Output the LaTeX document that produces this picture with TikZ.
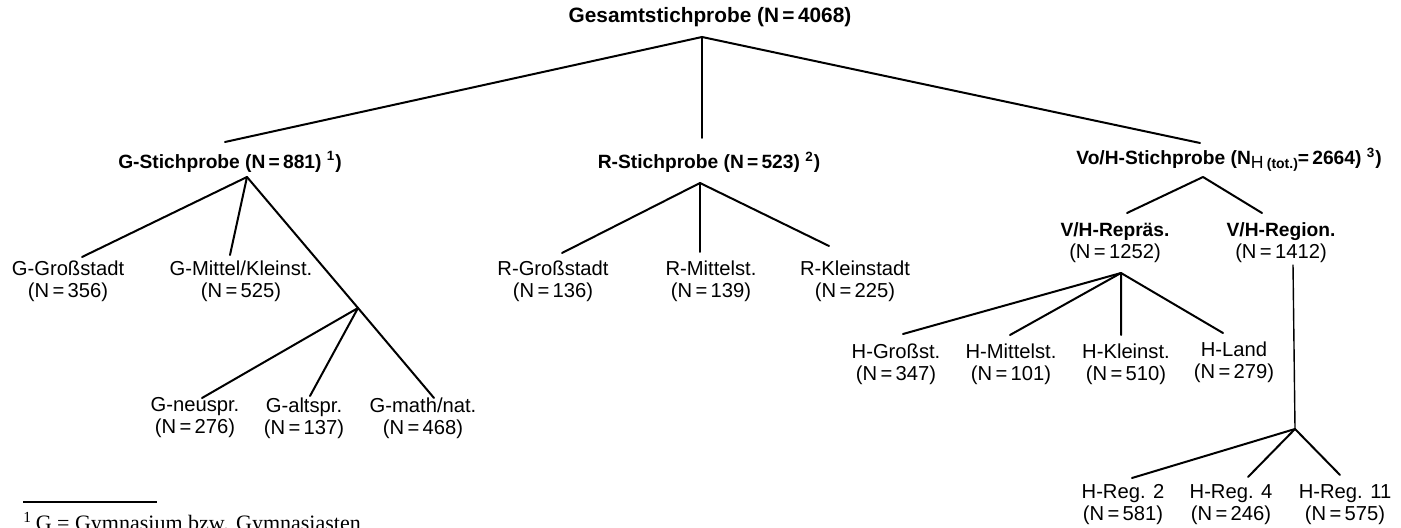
\documentclass[tikz,border=0pt]{standalone}
\usepackage{fontspec}
\setmainfont{Liberation Sans}
\newfontfamily\fnserif{Liberation Serif}
\begin{document}
\begin{tikzpicture}[x=0.5pt,y=-0.5pt,
  lbl/.style={inner sep=0pt,align=center,font=\fontsize{10.1}{11}\selectfont},
  blbl/.style={lbl,font=\fontsize{9.6}{11}\selectfont\bfseries},
  edge/.style={line width=1pt,line cap=round,line join=round}]
\useasboundingbox (0,0) rectangle (1401,528);
\clip (0,0) rectangle (1401,528);
% nodes
\node[blbl,font=\fontsize{10.4}{12}\selectfont\bfseries] (root) at (710,17) {Gesamtstichprobe (N\,=\,4068)};
\node[blbl] (gs) at (230,162) {G-Stichprobe (N\,=\,881) \textsuperscript{1})};
\node[blbl] (rs) at (709,162) {R-Stichprobe (N\,=\,523) \textsuperscript{2})};
\node[blbl] (vs) at (1229,160) {Vo/H-Stichprobe (N\raisebox{-0.4ex}{{\fontsize{8.8}{9}\selectfont\mdseries H}\,{\fontsize{7}{8}\selectfont(tot.)}}=\,2664) \textsuperscript{3})};
\node[lbl] (ggross) at (68,281) {G-Großstadt\\(N\,=\,356)};
\node[lbl] (gmittel) at (241,281) {G-Mittel/Kleinst.\\(N\,=\,525)};
\node[lbl] (gneu) at (195,418) {G-neuspr.\\(N\,=\,276)};
\node[lbl] (galt) at (304,418) {G-altspr.\\(N\,=\,137)};
\node[lbl] (gmath) at (423,418) {G-math/nat.\\(N\,=\,468)};
\node[lbl] (rgross) at (553,281) {R-Großstadt\\(N\,=\,136)};
\node[lbl] (rmittel) at (711,281) {R-Mittelst.\\(N\,=\,139)};
\node[lbl] (rklein) at (855,281) {R-Kleinstadt\\(N\,=\,225)};
\node[lbl] (vrep) at (1115,243) {\fontsize{9.6}{11}\selectfont\bfseries V/H-Repräs.\\(N\,=\,1252)};
\node[lbl] (vreg) at (1281,243) {\fontsize{9.6}{11}\selectfont\bfseries V/H-Region.\\(N\,=\,1412)};
\node[lbl] (hgross) at (896,364) {H-Großst.\\(N\,=\,347)};
\node[lbl] (hmittel) at (1011,364) {H-Mittelst.\\(N\,=\,101)};
\node[lbl] (hklein) at (1126,364) {H-Kleinst.\\(N\,=\,510)};
\node[lbl] (hland) at (1234,362) {H-Land\\(N\,=\,279)};
\node[lbl] (hr2) at (1123,505) {H-Reg. 2\\(N\,=\,581)};
\node[lbl] (hr4) at (1231,505) {H-Reg. 4\\(N\,=\,246)};
\node[lbl] (hr11) at (1345,505) {H-Reg. 11\\(N\,=\,575)};
% junctions and line ends
\coordinate (jR) at (702,37);
\coordinate (eG) at (225,142);
\coordinate (eR) at (702,138);
\coordinate (eV) at (1200,143);
\coordinate (jG) at (247,177);
\coordinate (eGgross) at (82,257);
\coordinate (eGmittel) at (230,255);
\coordinate (jGs) at (358,308);
\coordinate (eGmath) at (434,398);
\coordinate (eGneu) at (202,398);
\coordinate (eGalt) at (310,396);
\coordinate (jRs) at (700,183);
\coordinate (eRgross) at (562,253);
\coordinate (eRmittel) at (700,252);
\coordinate (eRklein) at (829,246);
\coordinate (jV) at (1203,177);
\coordinate (eVrep) at (1127,213);
\coordinate (eVreg) at (1262,213);
\coordinate (jVR) at (1121,273);
\coordinate (eHgross) at (903,334);
\coordinate (eHmittel) at (1010,335);
\coordinate (eHklein) at (1121,335);
\coordinate (eHland) at (1223,333);
\coordinate (sVG) at (1293,265);
\coordinate (jVG) at (1295,429);
\coordinate (eHr2) at (1132,478);
\coordinate (eHr4) at (1248,477);
\coordinate (eHr11) at (1340,475);
% connectors
\draw[edge] (eG) -- (jR) -- (eV);
\draw[edge] (jR) -- (eR);
\draw[edge] (eGgross) -- (jG) -- (eGmittel);
\draw[edge] (jG) -- (jGs) -- (eGmath);
\draw[edge] (eGneu) -- (jGs) -- (eGalt);
\draw[edge] (eRgross) -- (jRs) -- (eRklein);
\draw[edge] (jRs) -- (eRmittel);
\draw[edge] (eVrep) -- (jV) -- (eVreg);
\draw[edge] (eHgross) -- (jVR) -- (eHland);
\draw[edge] (eHmittel) -- (jVR) -- (eHklein);
\draw[edge,line width=0.7pt] (sVG) -- (jVG);
\draw[edge] (eHr2) -- (jVG) -- (eHr11);
\draw[edge] (jVG) -- (eHr4);
% footnote
\coordinate (fr1) at (23,502);
\coordinate (fr2) at (157,502);
\draw[line width=0.6pt] (fr1) -- (fr2);
\node[anchor=base west,inner sep=0pt,font=\fnserif\fontsize{11}{13}\selectfont] (fn) at (23,530) {\textsuperscript{1}\,G = Gymnasium bzw. Gymnasiasten};
\end{tikzpicture}
\end{document}
